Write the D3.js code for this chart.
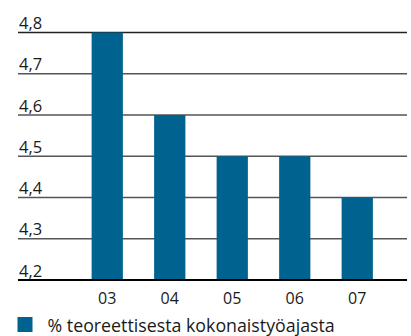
<!DOCTYPE html>
<html>
<head>
<meta charset="utf-8">
<script src="https://cdn.jsdelivr.net/npm/d3@7"></script>
<style>
  html, body { margin: 0; padding: 0; background: #fff; }
  svg { display: block; }
  text { font-family: "Open Sans", "DejaVu Sans", sans-serif; fill: #1a1a1a; }
</style>
</head>
<body>
<svg id="chart" width="411" height="336"></svg>
<script>
// Years and share of theoretical total working time (%)
const years = ["03", "04", "05", "06", "07"];
const values = [4.8, 4.6, 4.5, 4.5, 4.4];
const yTicks = [4.2, 4.3, 4.4, 4.5, 4.6, 4.7, 4.8];
const legendLabel = "% teoreettisesta kokonaistyöajasta";

const barColor = "#00628f";
const svg = d3.select("#chart");

const y = d3.scaleLinear().domain([4.2, 4.8]).range([280, 32.5]);
const x = d3.scaleBand().domain(years).range([76, 388.5])
  .paddingInner(0.5).paddingOuter(0.25);

const fmt = v => d3.format(".1f")(v).replace(".", ",");

// Horizontal gridlines with labels sitting on them
const grid = svg.append("g");
grid.selectAll("line").data(yTicks.filter(t => t > 4.2)).join("line")
  .attr("x1", 18).attr("x2", 407)
  .attr("y1", d => y(d)).attr("y2", d => y(d))
  .attr("stroke", d => d === 4.8 ? "#222" : "#555")
  .attr("stroke-width", 1.4);

grid.selectAll("text").data(yTicks).join("text")
  .attr("x", 19).attr("y", d => y(d) - 3.5)
  .attr("font-size", 16.5)
  .text(fmt);

// Bars
svg.append("g").selectAll("rect").data(values).join("rect")
  .attr("x", (d, i) => x(years[i]))
  .attr("width", x.bandwidth())
  .attr("y", d => y(d))
  .attr("height", d => y(4.2) - y(d))
  .attr("fill", barColor);

// Baseline
svg.append("line")
  .attr("x1", 18).attr("x2", 407)
  .attr("y1", y(4.2)).attr("y2", y(4.2))
  .attr("stroke", "#000").attr("stroke-width", 2);

// Category labels
const xAxis = d3.axisBottom(x).tickSize(0).tickPadding(0);
const xg = svg.append("g").call(xAxis);
xg.select(".domain").remove();
xg.selectAll("text")
  .attr("y", 304).attr("dy", null)
  .attr("font-size", 16)
  .attr("font-family", "\"Open Sans\", \"DejaVu Sans\", sans-serif")
  .attr("fill", "#1a1a1a");

// Legend
svg.append("rect").attr("x", 17.5).attr("y", 317).attr("width", 15).attr("height", 15)
  .attr("fill", barColor);
svg.append("text").attr("x", 47.5).attr("y", 332)
  .attr("font-size", 17.8)
  .text(legendLabel);
</script>
</body>
</html>
